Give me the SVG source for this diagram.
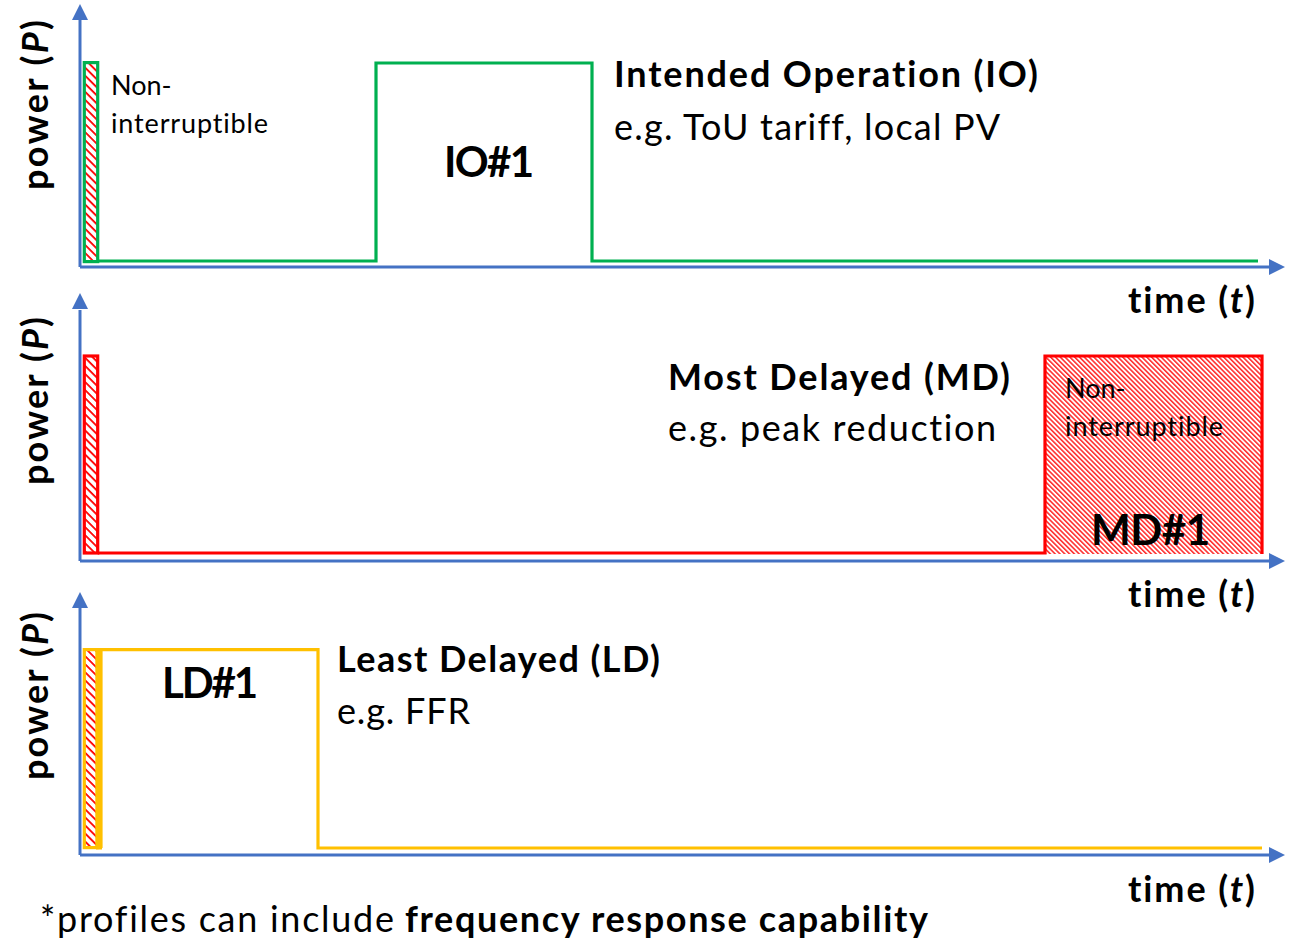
<svg xmlns="http://www.w3.org/2000/svg" width="1289" height="944" viewBox="0 0 1289 944">
  <defs>
    <style>
      .axis { stroke: #4472C4; stroke-width: 3; fill: none; }
      .head { fill: #4472C4; }
      .io { stroke: #00B050; stroke-width: 3.2; fill: none; stroke-linejoin: miter; }
      .md { stroke: #FF0000; stroke-width: 3.2; fill: none; stroke-linejoin: miter; }
      .ld { stroke: #FFC000; stroke-width: 3.2; fill: none; stroke-linejoin: miter; }
      .hatch { fill: url(#hatchWide); }
      text { font-family: Lato, "Open Sans", "Liberation Sans", sans-serif; fill: #000; font-variant-ligatures: none; font-feature-settings: "liga" 0, "dlig" 0; }
      .lbl { font-size: 36px; }
      .b { font-weight: bold; }
      .big { font-size: 42px; font-weight: bold; }
      .small { font-size: 27px; }
      .ital { font-style: italic; }
    </style>
    <!-- sparse downward diagonal hatch for the short start bars -->
    <pattern id="hatchWide" width="5.7" height="5.7" patternUnits="userSpaceOnUse" patternTransform="rotate(-45)">
      <rect width="5.7" height="5.7" fill="#fff"/>
      <line x1="1" y1="0" x2="1" y2="5.7" stroke="#FF0000" stroke-width="1.8"/>
    </pattern>
    <!-- dense downward diagonal hatch for the non-interruptible block -->
    <pattern id="hatchDense" width="3.4" height="3.4" patternUnits="userSpaceOnUse" patternTransform="rotate(-45)">
      <rect width="3.4" height="3.4" fill="#fff"/>
      <line x1="0.8" y1="0" x2="0.8" y2="3.4" stroke="#FF0000" stroke-width="1.3"/>
    </pattern>
  </defs>

  <!-- axes -->
  <g id="axes">
    <path class="axis" d="M80,267 V18"/>
    <polygon class="head" points="80,4 72,20 88,20"/>
    <path class="axis" d="M80,267 H1272"/>
    <polygon class="head" points="1285,267 1269,259 1269,275"/>

    <path class="axis" d="M80,561 V310"/>
    <polygon class="head" points="80,293 72,309 88,309"/>
    <path class="axis" d="M80,561 H1272"/>
    <polygon class="head" points="1285,561 1269,553 1269,569"/>

    <path class="axis" d="M80,855 V606"/>
    <polygon class="head" points="80,592 72,608 88,608"/>
    <path class="axis" d="M80,855 H1272"/>
    <polygon class="head" points="1285,855 1269,847 1269,863"/>
  </g>

  <!-- intended operation profile -->
  <g id="profile-io">
    <rect x="84.3" y="62.6" width="13.4" height="199" class="io hatch"/>
    <path class="io" d="M97.7,261 H376 V63 H592 V261 H1258"/>
  </g>

  <!-- most delayed profile -->
  <g id="profile-md">
    <rect x="84.3" y="356" width="13.4" height="197" class="md hatch"/>
    <rect x="1045" y="356" width="217" height="198" fill="url(#hatchDense)"/>
    <path class="md" d="M97.7,553 H1045 V356 H1262 V554"/>
  </g>

  <!-- least delayed profile -->
  <g id="profile-ld">
    <rect x="96" y="648" width="6" height="201.5" fill="#FFC000"/>
    <rect x="84.3" y="649.6" width="12.6" height="198" class="ld hatch"/>
    <path class="ld" d="M101,848 V649.6 H318 V848 H1262"/>
  </g>

  <!-- axis labels -->
  <g id="axis-labels">
    <text class="lbl b" transform="translate(48,105) rotate(-90)" text-anchor="middle" textLength="170">power (<tspan class="ital">P</tspan>)</text>
    <text class="lbl b" transform="translate(48,401) rotate(-90)" text-anchor="middle" textLength="168">power (<tspan class="ital">P</tspan>)</text>
    <text class="lbl b" transform="translate(48,696) rotate(-90)" text-anchor="middle" textLength="168">power (<tspan class="ital">P</tspan>)</text>
    <text class="lbl b" x="1128" y="313" textLength="127">time (<tspan class="ital">t</tspan>)</text>
    <text class="lbl b" x="1128" y="607" textLength="127">time (<tspan class="ital">t</tspan>)</text>
    <text class="lbl b" x="1128" y="902" textLength="127">time (<tspan class="ital">t</tspan>)</text>
  </g>

  <!-- profile annotations -->
  <g id="label-io">
    <text class="small" x="111" y="95">Non-</text>
    <text class="small" x="111" y="133" textLength="157">interruptible</text>
    <text class="big" x="444" y="177" textLength="90">IO#1</text>
    <text class="lbl b" x="614" y="87" textLength="424">Intended Operation (IO)</text>
    <text class="lbl" x="614" y="140" textLength="386">e.g. ToU tariff, local PV</text>
  </g>

  <g id="label-md">
    <text class="lbl b" x="668" y="390" textLength="342">Most Delayed (MD)</text>
    <text class="lbl" x="668" y="441" textLength="328">e.g. peak reduction</text>
    <text class="small" x="1065" y="398">Non-</text>
    <text class="small" x="1065" y="436" textLength="158">interruptible</text>
    <text class="big" x="1091" y="545" textLength="119">MD#1</text>
  </g>

  <g id="label-ld">
    <text class="big" x="162" y="698" textLength="96">LD#1</text>
    <text class="lbl b" x="337" y="672" textLength="323">Least Delayed (LD)</text>
    <text class="lbl" x="337" y="724" textLength="133">e.g. FFR</text>
  </g>

  <!-- footnote -->
  <g id="footnote">
    <text class="lbl" x="40" y="932" textLength="354">*profiles can include</text>
    <text class="lbl b" x="405" y="932" textLength="523">frequency response capability</text>
  </g>
</svg>
